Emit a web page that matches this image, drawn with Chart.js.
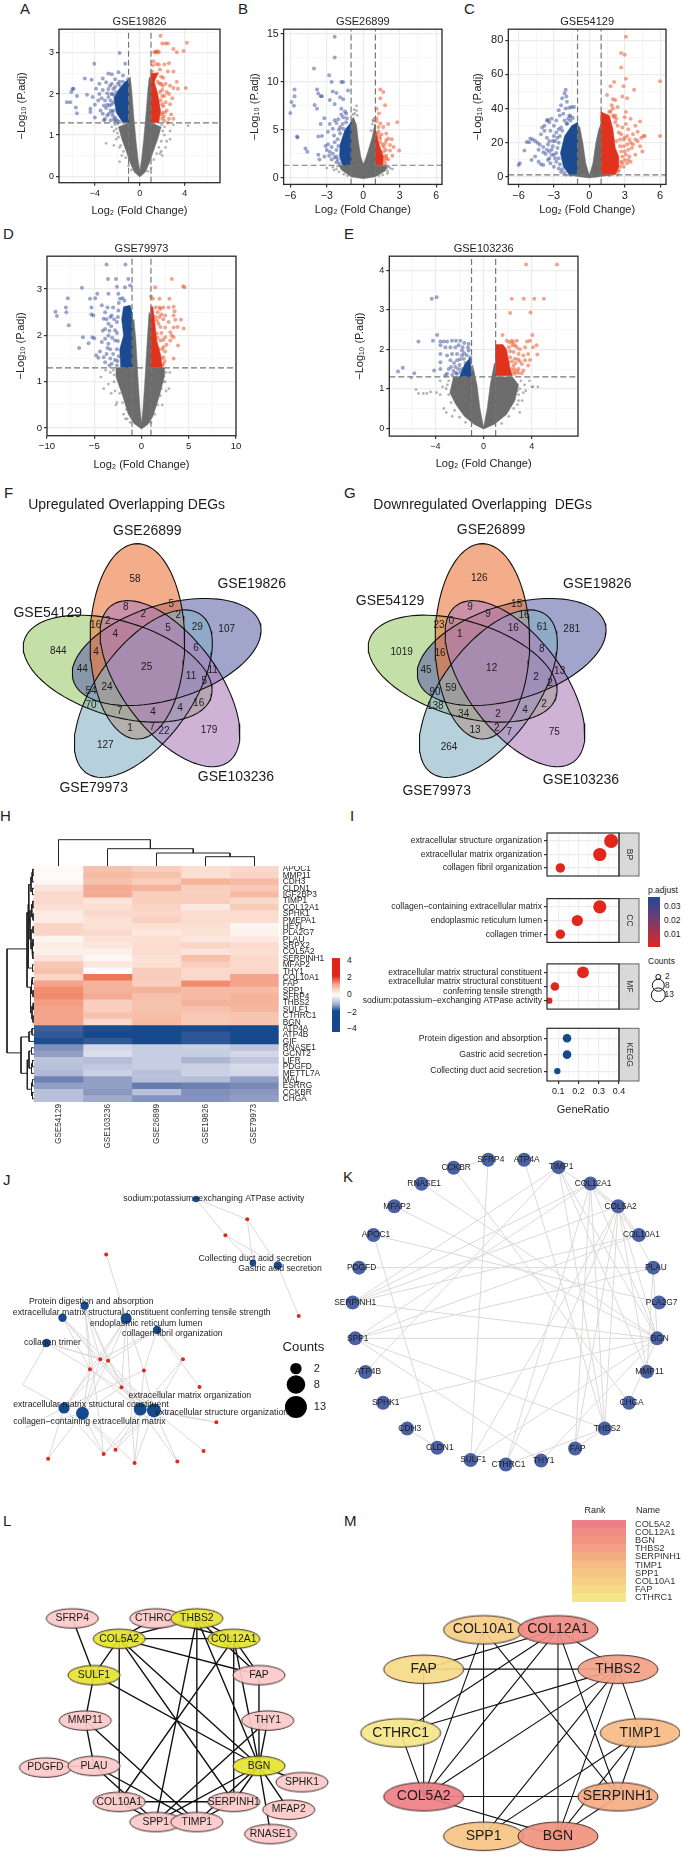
<!DOCTYPE html>
<html lang="en">
<head>
<meta charset="UTF-8">
<title>Overlapping DEGs figure</title>
<script src="https://cdn.jsdelivr.net/npm/chart.js"></script>
<style>
  body { margin: 0; background: #fff; width: 685px; height: 1857px; overflow: hidden; position: relative;
         font-family: "Liberation Sans", Arial, sans-serif; color: #222; }
  .note { position: absolute; white-space: nowrap; }
</style>
</head>
<body>
<script>
// ---------- volcano data, [log2FC, -log10 p.adj] ----------
const thresholdFc = [-1, 1];
const thresholdP = 1.3;

const aGrey = [[0,-.02],[-.5,.1],[-.9,.35],[-1.2,.6],[-1.6,.9],[-1.9,1.2],[-1,1.3],[-1,2.3],[-.85,2.42],[-.72,2.1],[-.55,1.5],[-.35,.9],[-.15,.4],[0,.12],[.15,.4],[.35,.9],[.55,1.5],[.72,2.1],[.85,2.42],[1,2.35],[1,1.3],[1.9,1.2],[1.6,.9],[1.2,.6],[.9,.35],[.5,.1],[0,-.02]];
const aBlueMass = [[-1,1.3],[-1.5,1.3],[-2.1,1.55],[-2.3,1.9],[-1.9,2.1],[-1.3,2.3],[-1,2.35],[-1,1.3]];
const aRedMass = [[1,1.3],[1.7,1.3],[1.85,1.6],[1.6,2],[1.3,2.3],[1.6,2.5],[1,2.5],[1,1.3]];
const aGreyDots = [[-3,.8],[-2.3,.75],[2.4,.85],[2.7,.9],[2.7,1.1],[2.2,1],[4.3,1.23],[-1.8,.35],[2,.5],[-2,1.05],[-2.5,1.2],[-2.3,1.1],[3,1.25],[1.9,.6],[-1.6,.5],[-2.1,.9],[2.3,.7],[-1.95,1.27],[-2.1,1.15],[-1.9,.95],[-1.7,.75],[-1.45,.6],[-1.25,.45],[-1,.25],[-.75,.15],[1.95,1.25],[2.05,1.1],[1.9,.85],[1.7,.7],[1.5,.55],[1.25,.4],[1,.2],[.7,.12],[-2.2,1.25],[2.2,1.2],[-1.8,.7],[1.8,.55]];
const aBlueDots = [[-1.8,3],[-4.05,2.74],[-1.3,2.74],[-2.8,2.5],[-2.5,2.48],[-1.9,2.53],[-1.5,2.45],[-2.2,2.36],[-1.05,2.36],[-4.9,2.38],[-4.3,2.35],[-3.3,2.38],[-3,2.29],[-3.6,2.25],[-2.5,2.25],[-1.8,2.3],[-6,2.12],[-5.9,2.13],[-6.1,2.05],[-5.6,1.95],[-4.7,1.98],[-3.9,2.13],[-3.6,2],[-4.2,1.93],[-3.3,2.1],[-2.8,2.12],[-3.7,1.84],[-4.4,1.64],[-4,1.74],[-3.2,1.72],[-6.2,1.8],[-5.6,1.53],[-5.7,1.67],[-4.4,1.56],[-4,1.43],[-3.1,1.39],[-3.5,1.6],[-2.9,1.48],[-2.6,1.36],[-3.2,1.36],[-2.6,1.84],[-2.4,2],[-2.2,2.17],[-2.8,1.93],[-2.6,1.6],[-2.4,1.47],[-3.1,1.84],[-6.5,1.8],[-3.4,1.9],[-3,1.66],[-3.3,1.52],[-2.9,2.02],[-2.3,1.38],[-2.7,1.72],[-2.5,1.75],[-2.35,1.6],[-2.2,1.42],[-2,1.36],[-2.55,2],[-2.1,2.05],[-2.45,1.55],[-2.3,1.8],[-2.25,1.95],[-1.75,2.2],[-1.5,2.3],[-1.95,2.25],[-2.75,1.52],[-2.15,1.34],[-1.8,1.32],[-2.65,2.2],[-2.35,2.12],[-2.9,1.74]];
const aRedDots = [[1.85,3.42],[1.3,3.02],[1.4,3.03],[1.5,3.02],[1.6,3.04],[1.7,3.02],[2,3.23],[2.3,3.23],[2.5,3.23],[4.2,3.25],[3,3.1],[3.3,3.02],[3.9,3.05],[1.2,2.8],[1.5,2.73],[2.2,2.72],[2.6,2.75],[1.8,2.6],[2.5,2.55],[3,2.55],[1.1,2.55],[1.4,2.45],[3.3,2.3],[2.3,2.25],[2.7,2.2],[4.1,2.15],[3.4,2.13],[3,2.15],[2.6,2],[2.9,1.9],[2.2,1.95],[2.7,1.75],[2.4,1.6],[2.8,1.5],[2.6,1.4],[3,1.4],[2.2,1.35],[2.5,1.3],[2,2.1],[2.3,1.8],[2,1.55],[2.1,2.4],[1.9,2.25],[2.4,2.05],[2,1.75],[2,1.4],[1.95,1.5],[2.1,1.7],[2,1.95],[1.8,2.05],[1.6,2.3],[1.9,2.42],[1.75,2.25],[2.15,1.45],[1.85,1.85],[2.25,1.55],[2.05,2.2],[1.55,2.5],[1.3,2.47],[1.15,2.7],[1.7,2.72]];

const bGrey = [[0,-.1],[-1,.1],[-1.8,.8],[-2,1.3],[-1,1.3],[-1,6],[-.8,6.3],[-.55,5.5],[-.4,3.8],[-.2,2.2],[0,1.4],[.2,2],[.45,3],[.75,4.3],[.95,5.6],[1,5.5],[1,1.3],[2,1.2],[1.8,.7],[1,.1],[0,-.1]];
const bBlueMass = [[-1,1.3],[-1.7,1.3],[-1.95,2.2],[-1.9,3.5],[-1.5,5],[-1,5.8],[-1,1.3]];
const bRedMass = [[1,1.3],[1.6,1.3],[1.65,2.2],[1.3,3.5],[1,5],[1,1.3]];
const bGreyDots = [[1.9,1],[2.2,1],[2.4,.9],[-2.5,1.1],[-3,1],[-2.2,.9],[-.55,7.5],[-.55,7],[-.5,6.5],[.8,6],[.9,6.2],[-2.4,.8],[2,.7],[-2.1,1.2],[-2,.6],[-1.6,.35],[-1.3,.2],[2.1,1.15],[2,.45],[1.6,.3],[1.3,.2],[-.7,6.7],[-.85,6.6],[-.75,7.1],[.75,5.6],[.65,4.9],[.85,5.9]];
const bBlueDots = [[-2.35,14.7],[-2.35,12.55],[-4.05,11.4],[-2.8,10.7],[-2.6,10],[-1.8,10],[-1.65,10],[-5.65,9.2],[-5.65,8.5],[-5.9,7.9],[-5.7,7.5],[-6,6.75],[-3.8,9.2],[-3.7,8.8],[-3.4,8.5],[-3.5,8.5],[-2.5,9],[-2.2,8.85],[-2.75,8.1],[-1.9,8.4],[-1.65,8.2],[-1.25,9.1],[-4,7.6],[-3.8,7.2],[-2.35,7.7],[-1.8,7.2],[-1.4,6.7],[-1.65,6.3],[-3.2,6.2],[-2.35,6],[-1.4,5.8],[-3.5,5.6],[-2.75,5.6],[-2.5,5.1],[-1.9,5.3],[-1.65,5.1],[-1.25,4.9],[-2.9,4.8],[-3.7,4.3],[-3.4,4.35],[-5.45,4.3],[-5.4,4.2],[-4.75,3.05],[-4.6,2.7],[-3.7,2.4],[-3.6,1.9],[-2.9,3.5],[-2.6,3.2],[-2.35,3.7],[-2.75,2.7],[-2.5,2.5],[-2.2,2.2],[-3.2,2.2],[-1.9,4.6],[-2.1,4],[-3,2.9],[-2.4,4.4],[-2.2,5.7],[-1.5,6.9],[-2.05,3.3],[-2.2,2.9],[-2.1,1.9],[-2.35,2.1],[-1.95,1.5],[-2.2,1.6],[-2.6,1.9],[-2.8,2.3],[-3.1,3.3],[-1.7,5.6],[-2,5],[-1.35,6.2],[-1.8,6.6],[-2.05,6.1]];
const bRedDots = [[1.4,9.2],[1.65,8.95],[1.4,8.3],[1.8,7.55],[1.1,7.2],[1.3,6.7],[1.1,6.2],[1.4,5.65],[2.05,5.6],[2.8,5.8],[1.65,5.3],[1.25,4.8],[1.9,4.6],[1.4,4.1],[2.05,4.1],[2.35,4],[1.8,3.6],[2.5,3.2],[2.95,2.85],[2.2,2.85],[1.65,2.7],[1.9,2.3],[2.4,2.3],[1.5,2.1],[2.05,1.9],[1.8,1.5],[1.5,1.45],[1.25,5.3],[1.1,5.9],[1.7,3.2],[2.2,3.4],[1.9,3.9],[1.4,3.7],[1.6,3.4],[1.85,2.9],[1.75,2.2],[1.7,1.8],[1.9,2],[1.5,4.5],[1.15,4.6],[1.3,4.3]];

const cGrey = [[0,-.5],[-1,.3],[-1.8,1.2],[-1,1.3],[-1,31],[-.8,29],[-.55,20],[-.3,8],[0,1],[.3,8],[.55,20],[.8,28],[1,31],[1,1.3],[1.8,1.2],[1,.3],[0,-.5]];
const cBlueMass = [[-1,1.3],[-1.7,1.3],[-2.2,6],[-2.45,14],[-2.1,24],[-1.5,30],[-1,32],[-1,1.3]];
const cRedMass = [[1,1.3],[2.2,1.3],[2.5,6],[2.5,12],[2.2,17],[2,28],[1.7,36],[1,38],[1,1.3]];
const cGreyDots = [[-2,1],[2.4,1],[-1.6,.8],[1.7,.8]];
const cBlueDots = [[-2,51],[-2.1,49],[-1.95,47],[-2.3,46],[-1.9,44],[-2.4,42],[-1.5,41],[-1.3,41],[-2,40],[-1.7,40.5],[-2.6,39],[-2.2,37],[-2.5,36],[-1.6,35.5],[-1.4,34.5],[-1.8,34],[-3.2,34],[-3.5,33.5],[-3.6,33],[-3.4,32],[-2.8,33],[-3,30],[-3.8,30],[-4,29],[-2.6,28],[-3.3,27],[-3.8,27],[-2.8,26],[-4.1,25],[-3,24],[-3.6,23],[-5,22.5],[-4.8,22],[-4.6,21],[-5.3,20.5],[-5.1,20.3],[-4.4,20],[-4.2,18.8],[-3.9,17.5],[-3.5,19],[-3.2,16],[-3.9,14.5],[-3,13],[-3.7,13.5],[-4.3,16],[-4.6,12],[-4.9,10],[-4.3,9],[-4.1,7.5],[-3.9,7],[-5.9,8],[-6,7],[-5.5,15.5],[-3.5,10],[-3.3,8],[-3,6],[-2.6,5],[-2.4,3],[-2.8,9],[-3.4,11],[-2.1,33],[-1.7,36],[-1.9,31],[-2.4,29],[-2.9,21],[-3.1,18],[-2.6,20],[-2.7,17],[-2.8,14],[-2.6,11],[-2.5,7.5],[-2.3,4.5],[-2.9,11],[-3.2,13],[-3.1,21],[-2.5,24],[-2.3,27],[-2.7,23],[-3.4,15],[-2.1,2.5],[-1.9,31.5],[-1.6,33],[-3.6,16],[-3.4,21]];
const cRedDots = [[3.1,82],[2.7,72.5],[3,71.5],[2.7,64],[3.1,57.5],[6,56],[2.1,55.5],[1.8,53],[2.9,53],[3.8,51],[1.5,48],[2.8,47],[2,45.5],[3.2,46],[2.2,45],[1.9,42],[2.4,41],[2,40],[3.1,38],[1.7,38],[2,36],[1.4,35],[2.3,34],[3,35],[3.5,34],[4.3,32.5],[3.9,30],[3.1,31],[2.8,29],[3.3,28],[4.1,26.5],[3.7,25],[2.7,25],[3.2,24],[4.6,24],[4.7,24],[4.4,23],[6,24],[3.9,22],[4.1,21],[3.5,20],[4.3,18],[4.5,15],[3.6,17],[3.2,19],[3,15],[3.9,13],[3.4,12],[3,10],[2.8,8],[2.5,4],[3.2,8],[3.5,9],[2.9,6],[2.4,30],[2.6,22],[2.9,18],[2.2,32],[2.7,15],[2.6,18],[2.8,12],[2.7,9],[2.6,6],[2.4,3],[2.9,22],[2.5,26],[2.3,21],[3.1,13],[3.3,16],[3,23],[3.4,22],[2.1,35],[1.8,38.5],[2.2,36],[3.7,19],[3.3,10]];

const dGrey = [[0,-.02],[-.8,.1],[-1.4,.3],[-2,.7],[-2.7,1.1],[-2.7,1.3],[-1,1.3],[-1,2.3],[-.8,2.35],[-.6,1.9],[-.35,1],[-.15,.4],[0,.1],[.15,.4],[.35,1],[.55,1.7],[.8,2.5],[1,2.4],[1,1.3],[2.4,1.3],[2.4,1.1],[1.9,.7],[1.2,.25],[.7,.08],[0,-.02]];
const dBlueMass = [[-1,1.3],[-2.2,1.3],[-2.3,1.7],[-1.9,2],[-2.1,2.35],[-1.9,2.62],[-1.2,2.65],[-1,2.5],[-1,1.3]];
const dRedMass = [[1,1.3],[2.2,1.3],[2,1.6],[1.6,1.9],[1.4,2.3],[1.2,2.62],[1,2.62],[1,1.3]];
const dGreyDots = [[-4.3,1.1],[-4,.85],[-3.5,.95],[-3.2,.75],[-2.8,.8],[-2.6,.55],[-2.7,.5],[-1.9,.3],[-1.5,.2],[2.9,.85],[2.6,.8],[2.2,.5],[2,.7],[3,1.2],[-3,1.25],[-3.8,1.25],[-1.7,.2],[2.3,1],[-2.9,1.15],[-3.3,1.2],[-2.9,1],[-2.3,.75],[-2,.55],[-1.6,.4],[2.6,1.2],[2.5,1],[2.1,.85],[1.7,.5],[1.4,.3],[-1.2,.12],[1,.12]];
const dBlueDots = [[-3.7,3.53],[-1.7,3.53],[-6.3,3.03],[-3.55,3.22],[-2.7,3.22],[-1.4,3.22],[-2.6,3.05],[-1.75,3.04],[-1.2,3.08],[-7.8,2.8],[-8,2.6],[-9.1,2.51],[-8.95,2.42],[-7.95,2.5],[-7.7,2.22],[-4.67,2.9],[-4.9,2.8],[-5.45,2.79],[-3.5,2.9],[-2.45,2.9],[-2.27,2.79],[-4.2,2.65],[-5.3,2.6],[-5.1,2.43],[-5.3,2.45],[-3.85,2.5],[-3,2.6],[-2.45,2.54],[-3.15,2.43],[-4,2.36],[-3.5,2.25],[-2.6,2.29],[-3.85,2.14],[-2.8,2.11],[-3.5,2],[-6.2,1.96],[-5.2,1.96],[-5,1.94],[-5.6,1.83],[-6.6,1.73],[-3.85,1.93],[-4.2,1.86],[-2.8,1.89],[-3.5,1.82],[-4.4,1.65],[-4.8,1.57],[-4.57,1.52],[-4,1.53],[-3.85,1.42],[-3,1.6],[-2.8,1.47],[-3.15,1.39],[-2.6,1.35],[-3.6,1.73],[-3.2,2.2],[-2.9,2.35],[-3.3,1.5],[-2.6,1.7],[-3.1,1.95],[-2.5,2.4],[-2.6,2.05],[-2.5,1.88],[-2.4,1.55],[-2.55,1.45],[-3.3,2.4],[-3.4,2.1],[-3.7,2.35],[-4.1,2.1],[-3.7,1.6],[-3.3,1.7],[-2.4,2.7],[-1.8,2.75],[-2,2.8],[-3.6,2.6],[-3.4,1.35]];
const dRedDots = [[3.2,3.22],[1.45,3.04],[4.4,3.06],[4.55,3.04],[1,2.84],[1.2,2.79],[1.9,2.79],[2.95,2.79],[1.5,2.6],[2.3,2.6],[2.87,2.6],[3.4,2.62],[3.5,2.52],[2,2.57],[2.5,2.43],[3.4,2.43],[3.58,2.34],[4.18,2.34],[2.87,2.29],[3.82,2.18],[4.46,2.15],[3.4,2.17],[2.5,2.17],[3.05,2.07],[3.2,2],[3.4,1.96],[3.05,1.89],[2.5,1.96],[3.86,1.78],[2.33,1.75],[3.4,1.5],[2.33,1.53],[2.33,1.39],[2,2.18],[1.6,2.04],[2,1.89],[1.63,2.32],[1.7,2.5],[1.9,2.4],[2.1,2.05],[2.5,1.65],[1.8,1.7],[2.1,1.5],[2.2,1.7],[1.9,1.55],[2.45,1.45],[2.2,1.35],[1.8,2.25],[2.3,2.35],[1.5,2.4],[1.9,2.6],[2.1,2.45],[2.3,1.9],[2.65,1.8],[1.7,1.95]];

const eGrey = [[0,-.02],[-.8,.1],[-1.6,.3],[-2.3,.6],[-2.8,.9],[-2.5,1.3],[-1,1.3],[-.9,1.6],[-.55,1.1],[-.3,.5],[0,.02],[.3,.5],[.55,1.1],[.9,1.65],[1,1.5],[1,1.3],[2.4,1.3],[2.9,1.1],[2.6,.7],[1.9,.35],[.9,.1],[0,-.02]];
const eBlueMass = [[-1,1.3],[-2,1.3],[-1.6,1.6],[-1.1,1.8],[-1,1.3]];
const eRedMass = [[1,1.33],[2.4,1.33],[2.2,1.5],[1.9,2],[1.6,2.12],[1,2.12],[1,1.33]];
const eGreyDots = [[-6,1.27],[-5.6,.98],[-5.4,.88],[-5,.88],[-4.7,.88],[-4.4,.92],[-3.9,.9],[-3.6,.85],[-3.4,1.05],[-3.1,1],[-3.3,.5],[-3.1,.4],[-2.6,.3],[4,1.05],[4.5,1.05],[3.5,.95],[3.3,.9],[2.8,.6],[3,.4],[3.8,1.2],[4.1,1.05],[3.1,1.2],[-3.6,1.2],[3.2,.7],[-2.9,1.2],[-3,1.1],[-2.9,.85],[-2.7,.65],[-2.4,.45],[-2,.28],[-1.5,.15],[3,1],[2.9,.85],[2.8,.95],[2.9,.7],[2.5,.5],[2.1,.3],[1.5,.12],[3.4,1.1]];
const eBlueDots = [[-4.3,3.28],[-3.9,3.32],[-3.85,2.36],[-4.2,2.22],[-5.4,2.2],[-3.58,2.2],[-3.3,2.2],[-3.03,2.2],[-2.62,2.22],[-2.29,2.22],[-1.93,2.22],[-1.6,2.16],[-1.24,2.14],[-3.58,2.1],[-3.17,2.05],[-2.75,2.05],[-2.34,2.05],[-2.07,2.1],[-1.74,2.05],[-3.58,1.88],[-3.03,1.84],[-2.62,1.88],[-2.2,1.88],[-1.79,1.97],[-1.24,1.97],[-3.58,1.67],[-2.75,1.72],[-2.2,1.72],[-1.65,1.76],[-1.1,1.8],[-3.58,1.5],[-2.89,1.5],[-2.34,1.55],[-1.79,1.5],[-1.1,1.55],[-3.03,1.38],[-2.2,1.38],[-1.6,1.39],[-1.05,1.39],[-7.1,1.44],[-6.7,1.53],[-5.75,1.39],[-4.1,1.46],[-3.17,1.34],[-2,1.6],[-1.5,1.65],[-2.5,1.45],[-1.9,1.42],[-1.4,1.85],[-1.8,1.85],[-2.1,1.5],[-2.3,1.4],[-2.7,1.55],[-1.95,1.75],[-1.3,2.05],[-1.6,1.9],[-2.45,1.65],[-2.6,1.35]];
const eRedDots = [[3.53,4.15],[6.09,4.15],[2.34,3.28],[3.33,3.28],[4.2,3.28],[5,3.28],[2.2,2.92],[3.9,2.93],[1.57,2.36],[4.05,2.36],[1.93,2.22],[2.34,2.22],[2.75,2.22],[3.6,2.2],[3.85,2.22],[4.4,2.1],[4.1,2.05],[4.46,1.87],[3,2],[3.44,2.05],[2.9,1.88],[3.7,1.88],[3.3,1.84],[2.48,1.93],[2.6,1.76],[3.44,1.72],[3.85,1.73],[2.07,1.67],[2.48,1.59],[3.17,1.63],[3.7,1.59],[2.9,1.5],[3.3,1.46],[2.48,1.42],[3.17,1.39],[2.2,1.8],[2.1,2.05],[2.6,2.1],[2.9,1.4],[2.3,1.5],[2.55,1.5],[2.65,1.65],[2.35,1.7],[2.2,1.95],[2.4,2.1],[2.75,2.05],[2.15,2.18],[2.45,2.18],[2.6,1.38],[2.75,1.45],[3,1.7],[2.85,1.75]];

// ---------- venn counts, positions in the venn's own units ----------
const vennEllipses = [[353,565,17],[500,515,-17],[412,483,90],[430,640,-54],[510,610,53]];
const vennColors = ['rgba(158,202,110,.6)','rgba(98,103,168,.6)','rgba(237,118,60,.6)','rgba(133,177,197,.6)','rgba(175,128,187,.6)'];
const upCounts = [[405,297,'58'],[680,447,'107'],[377,382,'8'],[514,373,'5'],[430,403,'2'],[535,405,'2'],[287,436,'16'],[323,425,'2'],[504,444,'5'],[592,442,'29'],[346,463,'4'],[175,515,'844'],[288,518,'4'],[588,505,'6'],[247,567,'44'],[440,563,'25'],[573,589,'11'],[638,571,'11'],[613,605,'5'],[273,633,'54'],[321,622,'24'],[273,675,'70'],[596,670,'16'],[359,694,'7'],[459,697,'4'],[540,685,'4'],[390,745,'1'],[457,742,'7'],[492,754,'22'],[627,750,'179'],[316,796,'127']];
const upNames = [[442,153,'GSE26899'],[755,313,'GSE19826'],[143,398,'GSE54129'],[708,891,'GSE103236'],[281,925,'GSE79973']];
const downCounts = [[418,295,'126'],[695,449,'281'],[390,381,'9'],[530,373,'15'],[444,403,'9'],[552,405,'16'],[297,436,'23'],[334,425,'0'],[520,444,'16'],[607,442,'61'],[359,463,'1'],[185,516,'1019'],[300,519,'16'],[605,507,'8'],[258,571,'45'],[455,566,'12'],[588,592,'2'],[659,574,'13'],[630,610,'2'],[285,637,'90'],[333,625,'59'],[286,679,'138'],[612,674,'2'],[371,702,'34'],[474,702,'2'],[555,690,'4'],[405,751,'13'],[470,746,'2'],[508,757,'7'],[643,756,'75'],[327,802,'264']];
const downNames = [[453,149,'GSE26899'],[772,311,'GSE19826'],[150,363,'GSE54129'],[723,899,'GSE103236'],[290,932,'GSE79973']];

// ---------- heatmap ----------
const heatColumns = ['GSE54129','GSE103236','GSE26899','GSE19826','GSE79973'];
const heatGenes = ['APOC1','MMP11','CDH3','CLDN1','IGF2BP3','TIMP1','COL12A1','SPHK1','PMEPA1','HEYL','PLA2G7','PLAU','SRPX2','COL5A2','SERPINH1','MFAP2','THY1','COL10A1','FAP','SPP1','SFRP4','THBS2','SULF1','CTHRC1','BGN','ATP4A','ATP4B','GIF','RNASE1','GCNT2','LIFR','PDGFD','METTL7A','MAL','ESRRG','CCKBR','CHGA'];
const heatValues = [
  [.1,1.1,.9,.6,.7],[.1,1.2,1.1,.6,.8],[.15,1.1,.9,1.3,1.2],[.5,1.4,1.3,.9,1],[.7,1.4,.9,.9,1.2],
  [.7,.5,.9,.9,.7],[.6,.6,.8,.4,.95],[.35,.7,.75,.65,.65],[.35,.55,.85,.65,.65],[.8,.55,.6,.6,.2],
  [.8,.7,.4,.55,.25],[.2,.55,.6,.45,.4],[.35,.45,.65,.8,.65],[.3,.3,.65,.5,.6],[.5,.15,.55,1.15,.7],
  [1,.45,.6,.9,.7],[1.1,.05,.95,.7,.75],[.8,2.1,.95,.7,1.5],[1.5,1.3,.9,1.8,1.5],[1.8,1.3,1.3,1.2,1.2],
  [1.85,1.4,1.1,1.2,1.3],[1.6,.9,1.1,1.3,1.3],[1.5,.9,1.1,1.1,1.25],[1.5,1.1,1.15,1,1.05],[1.5,.7,1.2,1,1.05],
  [-2.6,-3.2,-3.3,-3.3,-3.3],[-2.8,-3.3,-3.3,-2.9,-3.3],[-3.2,-2.8,-3.3,-2.9,-3.3],[-1.6,-.6,-.75,-.7,-.9],[-1.4,-.5,-.75,-.75,-.6],
  [-.9,-1,-.75,-1.1,-.85],[-.95,-.85,-.75,-.7,-.55],[-1.05,-.7,-.95,-.7,-.6],[-1.8,-1.4,-.95,-1,-1.4],[-1.4,-1.4,-1.9,-1.8,-1.7],
  [-.95,-1.5,-.95,-1.6,-1.5],[-.95,-1.25,-1.55,-1.55,-1.4]
];
const heatStops = [-3.3,-2,-1,0,.5,1,2,3];
const heatStopColors = [[22,74,140],[94,114,168],[181,189,216],[255,255,255],[252,228,218],[248,201,182],[239,127,95],[225,38,28]];
// dendrogram merges: [leaf a, height a, leaf b, height b, merge height]
const colMerges = [[3.5,0,4.5,0,9.3],[2.5,0,4,9.3,13],[1.5,0,3.25,13,17.3],[.5,0,2.375,17.3,26.3]];
const rowMerges = [[.5,0,1.5,0,1.2],[1,1.2,2.5,0,2],[3.5,0,4.5,0,1.5],[1.75,2,4,1.5,3],[5.5,0,6.5,0,1.2],[7.5,0,8.5,0,1],[6,1.2,8,1,2.2],[9.5,0,10.5,0,1],[11.5,0,12.5,0,1],[13.5,0,14.5,0,1.2],[12,1,14,1.2,2],[10,1,13,2,3],[7,2.2,11.5,3,4],[2.9,3,9.2,4,5.2],[15.5,0,16.5,0,1.5],[6,5.2,16,1.5,5.8],[17.5,0,18.5,0,1.8],[19.5,0,20.5,0,1],[18,1.8,20,1,2.5],[21.5,0,22.5,0,.8],[23.5,0,24.5,0,1],[22,.8,24,1,2],[19,2.5,23,2,3.5],[7.3,5.8,19,3.5,7],[25.5,0,26.5,0,2],[26,2,27.5,0,5],[28.5,0,29.5,0,2.5],[30.5,0,31.5,0,1.5],[31,1.5,32.5,0,2.5],[29,2.5,31.7,2.5,5],[33.5,0,34.5,0,1.5],[35.5,0,36.5,0,1.5],[34,1.5,36,1.5,2.5],[30.4,5,35,2.5,6.7],[26.8,5,32.5,6.7,13],[13,7,29.3,13,27]];

// ---------- enrichment dot plot ----------
const facetNames = ['BP','CC','MF','KEGG'];
const facetTerms = [
  ['extracellular structure organization','extracellular matrix organization','collagen fibril organization'],
  ['collagen\u2212containing extracellular matrix','endoplasmic reticulum lumen','collagen trimer'],
  ['extracellular matrix structural constituent','extracellular matrix structural constituent\nconferring tensile strength','sodium:potassium\u2212exchanging ATPase activity'],
  ['Protein digestion and absorption','Gastric acid secretion','Collecting duct acid secretion']
];
const facetRatio = [[.361,.305,.11],[.305,.194,.11],[.222,.083,.055],[.143,.143,.095]];
const facetCounts = [[13,11,4],[11,7,4],[8,3,2],[3,3,2]];
const facetColor = ['#e1261c','#e1261c','#e1261c','#164a8c'];
const countRadius = {2:3.2,3:4.3,4:4.7,7:5.6,8:5.9,11:6.6,13:7};

// ---------- term / gene network (panel J) ----------
const termNames = ['sodium','collecting','gastric','protein','conferring','er','fibril','trimer','ecmConst','ccMatrix','ecmOrg','extOrg'];
const termX = [593,775,855,236,165,369,468,114,170,229,414,458];
const termY = [122,327,335,464,503,505,542,584,792,809,796,800];
const termCount = [3,3,4,4,4,7,4,4,8,11,11,13];
const geneX = [757,687,922,305,286,311,253,426,551,354,604,658,617,533,396,335,297,119];
const geneY = [187,238,497,300,636,641,668,672,636,726,725,838,930,964,969,926,940,955];
const hiddenX = [38,45];
const hiddenY = [718,855];
const termGeneEdges = {
  sodium:[0,1],collecting:[0,1],gastric:[0,1,2],protein:[4,5,6,9,16],conferring:[4,5,6,9],er:[3,4,5,6,9,7,14],
  fibril:[4,5,7,8,10],trimer:['h0',4,5,6],ecmConst:['h0',4,5,6,7,16,17,'h1'],ccMatrix:[4,5,6,9,14,15,16,17,'h1'],
  ecmOrg:[4,5,6,7,8,9,11,13,14,15,16],extOrg:[4,5,6,7,8,9,11,12,13,14,15,16]
};
const termLabels = [[650,122,'sodium:potassium\u2212exchanging ATPase activity'],[782,312,'Collecting duct acid secretion'],[862,346,'Gastric acid secretion'],[257,452,'Protein digestion and absorption'],[419,486,'extracellular matrix structural constituent conferring tensile strength'],[433,520,'endoplasmic reticulum lumen'],[517,553,'collagen fibril organization'],[133,583,'collagen trimer'],[573,753,'extracellular matrix organization'],[256,781,'extracellular matrix structural constituent'],[675,806,'extracellular structure organization'],[251,837,'collagen\u2212containing extracellular matrix']];
const countsLegend = [[913,666,2],[913,717,8],[913,789,13]];

// ---------- PPI ring (panel K) ----------
const kNames = ['CCKBR','SFRP4','ATP4A','TIMP1','COL12A1','COL5A2','COL10A1','PLAU','PLA2G7','BGN','MMP11','CHGA','THBS2','FAP','THY1','CTHRC1','SULF1','CLDN1','CDH3','SPHK1','ATP4B','SPP1','SERPINH1','PDGFD','APOC1','MFAP2','RNASE1'];
const kX = [335,443,555,662,762,848,913,958,976,970,938,882,806,714,608,498,388,284,190,115,60,28,20,40,85,150,235];
const kY = [35,10,10,33,84,155,245,347,456,568,672,769,850,912,950,962,948,910,850,769,673,568,456,347,245,155,85];
const kEdges = [['SFRP4','SULF1'],['CCKBR','SFRP4'],['CCKBR','CHGA'],['RNASE1','BGN'],['MFAP2','BGN'],['APOC1','PLA2G7'],['APOC1','CLDN1'],['PDGFD','PLAU'],['SERPINH1','TIMP1'],['SERPINH1','COL12A1'],['SERPINH1','COL5A2'],['SERPINH1','COL10A1'],['SERPINH1','BGN'],['SPP1','BGN'],['SPP1','PLAU'],['SPP1','COL10A1'],['SPP1','COL12A1'],['SPP1','THBS2'],['SPP1','THY1'],['ATP4B','TIMP1'],['ATP4A','THBS2'],['SPHK1','BGN'],['CDH3','CLDN1'],['SULF1','BGN'],['SULF1','COL5A2'],['CTHRC1','COL12A1'],['CTHRC1','COL5A2'],['CTHRC1','THBS2'],['FAP','COL12A1'],['FAP','COL5A2'],['FAP','THBS2'],['THBS2','COL12A1'],['THBS2','COL5A2'],['THBS2','TIMP1'],['THY1','BGN'],['CHGA','BGN'],['MMP11','COL5A2'],['MMP11','TIMP1'],['MMP11','PLAU'],['BGN','PLAU'],['BGN','COL5A2'],['BGN','COL12A1'],['BGN','TIMP1'],['COL5A2','COL10A1'],['COL5A2','PLAU'],['COL12A1','COL10A1'],['COL12A1','COL5A2'],['COL5A2','TIMP1']];

// ---------- hub network (panel L) ----------
const lNames = ['SFRP4','CTHRC1','THBS2','COL5A2','COL12A1','SULF1','FAP','MMP11','THY1','PDGFD','PLAU','BGN','SPHK1','COL10A1','SERPINH1','MFAP2','SPP1','TIMP1','RNASE1'];
const lX = [208,466,593,353,707,275,785,248,812,125,275,785,918,353,707,877,466,593,821];
const lY = [380,380,380,443,443,555,555,695,695,840,835,835,885,946,946,970,1008,1008,1045];
const lHubs = ['THBS2','COL5A2','COL12A1','SULF1','BGN'];
const lEdges = [['SFRP4','SULF1'],['SULF1','COL5A2'],['SULF1','MMP11'],['SULF1','BGN'],['CTHRC1','COL5A2'],['CTHRC1','COL12A1'],['THBS2','COL5A2'],['THBS2','COL12A1'],['THBS2','FAP'],['THBS2','TIMP1'],['THBS2','SPP1'],['THBS2','BGN'],['COL5A2','COL12A1'],['COL5A2','FAP'],['COL5A2','COL10A1'],['COL5A2','BGN'],['COL5A2','SERPINH1'],['COL12A1','COL10A1'],['COL12A1','FAP'],['COL12A1','BGN'],['COL12A1','SERPINH1'],['FAP','BGN'],['THY1','BGN'],['THY1','SPP1'],['MMP11','PLAU'],['MMP11','TIMP1'],['PLAU','SPP1'],['PLAU','TIMP1'],['PLAU','PDGFD'],['COL10A1','SERPINH1'],['COL10A1','SPP1'],['SERPINH1','TIMP1'],['SERPINH1','BGN'],['BGN','SPP1'],['BGN','TIMP1'],['BGN','SPHK1'],['BGN','MFAP2'],['BGN','RNASE1']];

// ---------- top ten ranking (panel M) ----------
const rankNames = ['COL5A2','COL12A1','BGN','THBS2','SERPINH1','TIMP1','SPP1','COL10A1','FAP','CTHRC1'];
const rankColors = ['#ee7f87','#ef8c84','#f1937f','#f3a186','#f4ac83','#f6bb85','#f6c586','#f6ce85','#f6da87','#f5e68a'];
const mX = {COL10A1:428,COL12A1:658,FAP:243,THBS2:843,CTHRC1:172,TIMP1:912,COL5A2:243,SERPINH1:843,SPP1:428,BGN:658};
const mY = {COL10A1:415,COL12A1:415,FAP:537,THBS2:537,CTHRC1:733,TIMP1:733,COL5A2:930,SERPINH1:930,SPP1:1052,BGN:1052};
const mEdges = [['COL10A1','COL5A2'],['COL10A1','SPP1'],['COL10A1','SERPINH1'],['COL12A1','FAP'],['COL12A1','COL5A2'],['COL12A1','CTHRC1'],['COL12A1','THBS2'],['COL12A1','BGN'],['COL12A1','SERPINH1'],['FAP','THBS2'],['FAP','COL5A2'],['THBS2','CTHRC1'],['THBS2','COL5A2'],['THBS2','TIMP1'],['THBS2','SPP1'],['THBS2','BGN'],['CTHRC1','COL5A2'],['TIMP1','SERPINH1'],['TIMP1','BGN'],['TIMP1','SPP1'],['COL5A2','SERPINH1'],['COL5A2','BGN'],['SERPINH1','BGN']];

// ---------- helpers ----------
const FONT = '"Liberation Sans", Arial, sans-serif';
Chart.defaults.font.family = FONT;
Chart.defaults.color = '#222';
Chart.defaults.animation = false;
Chart.defaults.events = [];
Chart.defaults.plugins.legend.display = false;
Chart.defaults.plugins.tooltip.enabled = false;

// draws {x,y,text} points of any dataset that has a textSize, and boxes a plot when asked
Chart.register({
  id: 'figureExtras',
  afterDatasetsDraw(chart, args, opts) {
    const ctx = chart.ctx;
    chart.data.datasets.forEach((ds, i) => {
      if (!ds.textSize) return;
      ctx.save();
      ctx.font = ds.textSize + 'px ' + FONT;
      ctx.fillStyle = '#1c1c1c';
      ctx.textAlign = 'center';
      ctx.textBaseline = 'middle';
      chart.getDatasetMeta(i).data.forEach((pt, j) => ctx.fillText(ds.data[j].text, pt.x, pt.y));
      ctx.restore();
    });
    if (opts.box) {
      const a = chart.chartArea;
      ctx.save();
      if (opts.strip) {
        ctx.fillStyle = '#d9d9d9';
        ctx.strokeStyle = '#666';
        ctx.lineWidth = 1;
        ctx.fillRect(a.right, a.top, 20, a.bottom - a.top);
        ctx.strokeRect(a.right, a.top, 20, a.bottom - a.top);
        ctx.translate(a.right + 10, (a.top + a.bottom) / 2);
        ctx.rotate(Math.PI / 2);
        ctx.fillStyle = '#333';
        ctx.font = '8.5px ' + FONT;
        ctx.textAlign = 'center';
        ctx.textBaseline = 'middle';
        ctx.fillText(opts.strip, 0, 0);
        ctx.setTransform(1, 0, 0, 1, 0, 0);
      }
      ctx.strokeStyle = '#2a2a2a';
      ctx.lineWidth = opts.box;
      ctx.strokeRect(a.left, a.top, a.right - a.left, a.bottom - a.top);
      ctx.restore();
    }
  }
});

function mount(x, y, w, h) {
  const c = document.createElement('canvas');
  c.width = w;
  c.height = h;
  c.style.cssText = `position:absolute;left:${x}px;top:${y}px`;
  document.body.appendChild(c);
  return c;
}

function note(text, x, y, size, centered) {
  const d = document.createElement('div');
  d.className = 'note';
  d.textContent = text;
  d.style.cssText = `left:${x}px;top:${y}px;font-size:${size}px;` + (centered ? 'transform:translate(-50%,-50%);' : '');
  document.body.appendChild(d);
}

function inOrder(datasets) {
  datasets.forEach((d, i) => { d.order = datasets.length - i; });
  return datasets;
}

// fixed axis box, without the extra room chart.js keeps for the first and last label
const fixHeight = h => s => { s.height = h; s.paddingLeft = s.paddingRight = 0; };
const fixWidth = w => s => { s.width = w; s.paddingTop = s.paddingBottom = 0; };

const toPoints = list => list.map(p => ({x: p[0], y: p[1]}));
const textSet = (items, size) => ({data: items.map(t => ({x: t[0], y: t[1], text: t[2]})), pointRadius: 0, textSize: size});
const shape = (list, color) => ({data: toPoints(list), showLine: true, fill: 'shape', backgroundColor: color, borderColor: color, borderWidth: .5, pointRadius: 0});
const dots = (list, color, r) => ({data: toPoints(list), backgroundColor: color, borderWidth: 0, pointRadius: r});
const dashed = (list) => ({data: toPoints(list), showLine: true, borderColor: '#777', borderWidth: 1.2, borderDash: [6, 3], pointRadius: 0});
const fmtTick = v => String(v).replace('-', '\u2212');

function gridAxis(min, max, major, minor, size, margin, title) {
  const cfg = {
    min, max,
    afterBuildTicks: s => { s.ticks = major.concat(minor).map(v => ({value: v})); },
    afterFit: margin,
    border: {display: false},
    grid: {
      color: c => major.includes(c.tick.value) ? '#ececec' : '#f4f4f4',
      lineWidth: c => major.includes(c.tick.value) ? 1.2 : .8,
      tickColor: c => major.includes(c.tick.value) ? '#333' : 'rgba(0,0,0,0)',
      tickLength: 3
    },
    ticks: {
      autoSkip: false, maxRotation: 0, padding: 2, color: '#222', font: {size},
      callback: v => major.includes(v) ? fmtTick(v) : ''
    }
  };
  if (title) cfg.title = {display: true, text: title, font: {size: 11}, color: '#222', padding: 0};
  return cfg;
}

function volcano(cfg) {
  const [x, y, x2, y2] = cfg.rect;
  const [l, r, b] = cfg.margin;
  const top = 14.2;
  const c = mount(Math.round(x - l), Math.round(y - top), Math.round(x2 - x + l + r), Math.round(y2 - y + top + b));
  new Chart(c, {
    type: 'scatter',
    data: {datasets: inOrder([
      dots(cfg.greyDots, 'rgba(105,105,105,.5)', 1.4),
      shape(cfg.grey, '#6c6c6c'),
      dots(cfg.blueDots, 'rgba(48,68,150,.48)', 2),
      dots(cfg.redDots, 'rgba(232,80,36,.52)', 2),
      shape(cfg.blueMass, '#1c4a90'),
      shape(cfg.redMass, '#e0321c'),
      dashed([[thresholdFc[0], cfg.yr[0]], [thresholdFc[0], cfg.yr[1]]]),
      dashed([[thresholdFc[1], cfg.yr[0]], [thresholdFc[1], cfg.yr[1]]]),
      dashed([[cfg.xr[0], thresholdP], [cfg.xr[1], thresholdP]])
    ])},
    options: {
      responsive: false,
      layout: {padding: {right: r}},
      plugins: {
        figureExtras: {box: 1.3},
        title: {display: true, text: cfg.title, fullSize: false, font: {size: 11, weight: 'normal'}, color: '#222', padding: {top: 0, bottom: 1}}
      },
      scales: {
        x: gridAxis(cfg.xr[0], cfg.xr[1], cfg.xMajor, cfg.xMinor, cfg.tick, fixHeight(b), 'Log\u2082 (Fold Change)'),
        y: gridAxis(cfg.yr[0], cfg.yr[1], cfg.yMajor, cfg.yMinor, cfg.tick, fixWidth(l), '\u2212Log\u2081\u2080 (P.adj)')
      }
    }
  });
}

function ellipseOutline(e, shift) {
  const pts = [];
  const t = e[2] * Math.PI / 180;
  for (let i = 0; i <= 96; i++) {
    const u = i / 96 * 2 * Math.PI;
    const a = 293 * Math.cos(u), b = 142 * Math.sin(u);
    pts.push([e[0] + shift + a * Math.cos(t) - b * Math.sin(t), e[1] + 1 + a * Math.sin(t) + b * Math.cos(t)]);
  }
  return pts;
}

function venn(x, title, titleX, counts, names, shift) {
  const fills = vennEllipses.map((e, i) => ({data: toPoints(ellipseOutline(e, shift)), showLine: true, fill: 'shape', backgroundColor: vennColors[i], borderWidth: 0, pointRadius: 0}));
  const lines = vennEllipses.map(e => ({data: toPoints(ellipseOutline(e, shift)), showLine: true, borderColor: '#111', borderWidth: 1.1, pointRadius: 0}));
  new Chart(mount(x, 480, 345, 320), {
    type: 'scatter',
    data: {datasets: inOrder([...fills, ...lines, textSet(counts, 10), textSet(names, 14), textSet([[titleX, 75, title]], 14)])},
    options: {responsive: false, scales: {x: {display: false, min: 0, max: 1035}, y: {display: false, min: 0, max: 960, reverse: true}}}
  });
}

function heatColor(v) {
  let i = 0;
  while (i < heatStops.length - 2 && v > heatStops[i + 1]) i++;
  const t = Math.max(0, Math.min(1, (v - heatStops[i]) / (heatStops[i + 1] - heatStops[i])));
  const rgb = heatStopColors[i].map((c, k) => Math.round(c + (heatStopColors[i + 1][k] - c) * t));
  return `rgb(${rgb.join(',')})`;
}

function mergePath(merges, swap) {
  const out = [];
  merges.forEach(m => {
    const path = [[m[0], m[1]], [m[0], m[4]], [m[2], m[4]], [m[2], m[3]]];
    path.forEach(p => out.push(swap ? {x: p[1], y: p[0]} : {x: p[0], y: p[1]}));
    out.push({x: null, y: null});
  });
  return out;
}

function edgeSet(pairs, xOf, yOf, color, width) {
  const data = [];
  pairs.forEach(([a, b]) => {
    data.push({x: xOf(a), y: yOf(a)}, {x: xOf(b), y: yOf(b)}, {x: null, y: null});
  });
  return {data, showLine: true, borderColor: color, borderWidth: width, pointRadius: 0};
}

function ovalSprite(rx, ry, fill) {
  const c = document.createElement('canvas');
  c.width = rx * 2 + 4;
  c.height = ry * 2 + 4;
  const g = c.getContext('2d');
  g.beginPath();
  g.ellipse(rx + 2, ry + 2, rx, ry, 0, 0, 2 * Math.PI);
  g.globalAlpha = .93;
  g.fillStyle = fill;
  g.fill();
  g.globalAlpha = 1;
  g.strokeStyle = '#3c2a28';
  g.lineWidth = 1;
  g.stroke();
  return c;
}

function ovalNodes(names, xOf, yOf, sprite) {
  const sprites = names.map(sprite);
  return {data: names.map(n => ({x: xOf(n), y: yOf(n)})), pointRadius: 1, pointStyle: c => sprites[c.dataIndex]};
}

const unitScales = (x0, x1, y0, y1) => ({x: {display: false, min: x0, max: x1}, y: {display: false, min: y0, max: y1, reverse: true}});

// ---------- panel letters ----------
[['A',20,0],['B',238,0],['C',464,0],['D',3,225],['E',344,225],['F',4,484],['G',344,484],['H',0,807],['I',350,807],['J',3,1171],['K',343,1168],['L',3,1512],['M',344,1512]]
  .forEach(p => note(p[0], p[1], p[2], 15));

// ---------- A-E volcano plots ----------
volcano({title: 'GSE19826', rect: [59, 29, 220, 182], margin: [44, 12, 35.3], tick: 9, xr: [-7.2, 7.15], yr: [-.16, 3.58],
  xMajor: [-4, 0, 4], xMinor: [-6, -2, 2, 6], yMajor: [0, 1, 2, 3], yMinor: [.5, 1.5, 2.5, 3.5],
  grey: aGrey, blueMass: aBlueMass, redMass: aRedMass, greyDots: aGreyDots, blueDots: aBlueDots, redDots: aRedDots});
volcano({title: 'GSE26899', rect: [284, 29, 442, 184], margin: [35.6, 12, 32.6], tick: 10.5, xr: [-6.55, 6.48], yr: [-.7, 15.5],
  xMajor: [-6, -3, 0, 3, 6], xMinor: [-4.5, -1.5, 1.5, 4.5], yMajor: [0, 5, 10, 15], yMinor: [2.5, 7.5, 12.5],
  grey: bGrey, blueMass: bBlueMass, redMass: bRedMass, greyDots: bGreyDots, blueDots: bBlueDots, redDots: bRedDots});
volcano({title: 'GSE54129', rect: [508, 29, 666, 184], margin: [37.3, 12, 32.6], tick: 11, xr: [-6.87, 6.5], yr: [-4.3, 86.4],
  xMajor: [-6, -3, 0, 3, 6], xMinor: [-4.5, -1.5, 1.5, 4.5], yMajor: [0, 20, 40, 60, 80], yMinor: [10, 30, 50, 70],
  grey: cGrey, blueMass: cBlueMass, redMass: cRedMass, greyDots: cGreyDots, blueDots: cBlueDots, redDots: cRedDots});
volcano({title: 'GSE79973', rect: [47, 256, 236, 435], margin: [33, 12, 36.3], tick: 9.6, xr: [-10, 10], yr: [-.165, 3.71],
  xMajor: [-10, -5, 0, 5, 10], xMinor: [-7.5, -2.5, 2.5, 7.5], yMajor: [0, 1, 2, 3], yMinor: [.5, 1.5, 2.5, 3.5],
  grey: dGrey, blueMass: dBlueMass, redMass: dRedMass, greyDots: dGreyDots, blueDots: dBlueDots, redDots: dRedDots});
volcano({title: 'GSE103236', rect: [389, 256, 578, 436], margin: [36.3, 12, 34.9], tick: 9, xr: [-7.82, 7.83], yr: [-.2, 4.36],
  xMajor: [-4, 0, 4], xMinor: [-6, -2, 2, 6], yMajor: [0, 1, 2, 3, 4], yMinor: [.5, 1.5, 2.5, 3.5],
  grey: eGrey, blueMass: eBlueMass, redMass: eRedMass, greyDots: eGreyDots, blueDots: eBlueDots, redDots: eRedDots});

// ---------- F, G venn diagrams ----------
venn(0, 'Upregulated Overlapping DEGs', 380, upCounts, upNames, 0);
venn(340, 'Downregulated Overlapping  DEGs', 428, downCounts, downNames, 15);

// ---------- H heatmap with dendrograms ----------
new Chart(mount(34, 866, 297, 292), {
  type: 'bar',
  data: {
    labels: heatGenes,
    datasets: heatColumns.map((name, j) => ({
      label: name,
      data: heatGenes.map(() => 1),
      backgroundColor: heatValues.map(row => heatColor(row[j])),
      borderWidth: 0, barPercentage: 1, categoryPercentage: 1
    }))
  },
  options: {
    indexAxis: 'y',
    responsive: false,
    scales: {
      x: {
        stacked: true, min: 0, max: 5, position: 'bottom',
        afterBuildTicks: s => { s.ticks = heatColumns.map((n, i) => ({value: i + .5})); },
        afterFit: fixHeight(56),
        border: {display: false},
        grid: {display: false, tickLength: 0},
        ticks: {autoSkip: false, minRotation: 90, maxRotation: 90, padding: 2, font: {size: 8.2}, color: '#333', callback: (v, i) => heatColumns[i]}
      },
      y: {
        stacked: true, position: 'right',
        afterFit: fixWidth(52.3),
        border: {display: false},
        grid: {display: false, tickLength: 0},
        ticks: {autoSkip: false, padding: 4, font: {size: 8.3}, color: '#222'}
      }
    }
  }
});
new Chart(mount(34, 835, 245, 31), {
  type: 'scatter',
  data: {datasets: [{data: mergePath(colMerges, false), showLine: true, borderColor: '#222', borderWidth: 1, pointRadius: 0}]},
  options: {responsive: false, scales: {x: {display: false, min: 0, max: 5}, y: {display: false, min: 0, max: 31}}}
});
new Chart(mount(5, 866, 29, 236), {
  type: 'scatter',
  data: {datasets: [{data: mergePath(rowMerges, true), showLine: true, borderColor: '#222', borderWidth: 1, pointRadius: 0}]},
  options: {responsive: false, scales: {x: {display: false, min: 0, max: 29, reverse: true}, y: {display: false, min: 0, max: 37, reverse: true}}}
});
// heat colour key
const heatKey = document.createElement('div');
heatKey.style.cssText = 'position:absolute;left:332px;top:958px;width:8px;height:74px;background:linear-gradient(#e1261c 0%,#e1261c 24%,#f4a88f 36%,#fff 50%,#a9b2d2 62%,#164a8c 72%,#164a8c 100%)';
document.body.appendChild(heatKey);
[[4,960],[2,977.7],[0,994.7],['\u22122',1012],['\u22124',1028.7]].forEach(p => note(p[0], 347, p[1] - 5.5, 8.5));

// ---------- I enrichment dot plot ----------
const facetTops = [826, 892, 958, 1024];
const dotGridX = [.05, .15, .25, .35];
facetNames.forEach((name, f) => {
  const last = f === facetNames.length - 1;
  const bottom = last ? 36 : 0;
  const xAxis = gridAxis(.044, .4, [.1, .2, .3, .4], dotGridX, 9, fixHeight(bottom), last ? 'GeneRatio' : null);
  if (!last) {
    xAxis.ticks.display = false;
    xAxis.grid.drawTicks = false;
  }
  new Chart(mount(345, facetTops[f], 295, 57 + bottom), {
    type: 'bubble',
    data: {datasets: [{
      data: facetRatio[f].map((v, i) => ({x: v, y: i + 1, r: countRadius[facetCounts[f][i]]})),
      backgroundColor: facetColor[f], borderWidth: 0
    }]},
    options: {
      responsive: false,
      layout: {padding: {right: 21}},
      plugins: {figureExtras: {box: 1.2, strip: name}},
      scales: {
        x: xAxis,
        y: {
          min: .4, max: 3.6, reverse: true,
          afterBuildTicks: s => { s.ticks = [1, 2, 3].map(v => ({value: v})); },
          afterFit: fixWidth(202),
          border: {display: false},
          grid: {color: '#ececec', lineWidth: 1.2, tickColor: '#333', tickLength: 3},
          ticks: {autoSkip: false, padding: 2, font: {size: 8.6, lineHeight: 1.15}, color: '#222',
            callback: v => { const t = facetTerms[f][v - 1]; return t.includes('\n') ? t.split('\n') : t; }}
        }
      }
    }
  });
});
note('p.adjust', 648, 885, 8.5);
const padjKey = document.createElement('div');
padjKey.style.cssText = 'position:absolute;left:648px;top:897px;width:12px;height:50px;background:linear-gradient(#24489a,#7d3a6b 50%,#e1261c)';
document.body.appendChild(padjKey);
[['0.03',906],['0.02',920],['0.01',933.5]].forEach(p => note(p[0], 664, p[1] - 5, 8.5));
note('Counts', 648, 956, 8.5);
new Chart(mount(640, 965, 45, 45), {
  type: 'scatter',
  data: {datasets: [
    {data: [{x: 16, y: 6}, {x: 16, y: 19}, {x: 16, y: 34}], pointRadius: [2.5, 6, 7], backgroundColor: 'rgba(0,0,0,0)', borderColor: '#111', borderWidth: 1},
    textSet([[30, 6, '2'], [30, 19, '8'], [33, 34, '13']], 8.5)
  ]},
  options: {responsive: false, scales: unitScales(0, 45, 0, 45)}
});

// ---------- J term network ----------
const termIndex = n => termNames.indexOf(n);
const geneOrHiddenX = g => typeof g === 'string' ? hiddenX[+g.slice(1)] : geneX[g];
const geneOrHiddenY = g => typeof g === 'string' ? hiddenY[+g.slice(1)] : geneY[g];
const jPairs = [];
Object.keys(termGeneEdges).forEach(t => termGeneEdges[t].forEach(g => jPairs.push([t, g])));
const jX = n => typeof n === 'string' && termIndex(n) >= 0 ? termX[termIndex(n)] : geneOrHiddenX(n);
const jY = n => typeof n === 'string' && termIndex(n) >= 0 ? termY[termIndex(n)] : geneOrHiddenY(n);
const jRadius = {2: 5.7, 3: 3.3, 4: 4.2, 7: 5.5, 8: 5.6, 11: 6.4, 13: 7};
new Chart(mount(0, 1150, 345, 340), {
  type: 'scatter',
  data: {datasets: inOrder([
    edgeSet(jPairs, jX, jY, '#dcd9d8', 1),
    {data: geneX.map((x, i) => ({x, y: geneY[i]})), backgroundColor: '#e1261c', borderWidth: 0, pointRadius: 2},
    {data: termX.map((x, i) => ({x, y: termY[i]})), backgroundColor: '#164a8c', borderWidth: 0, pointRadius: termCount.map(c => jRadius[c])},
    {data: countsLegend.map(c => ({x: c[0], y: c[1]})), backgroundColor: '#000', borderWidth: 0, pointRadius: [5.7, 9.3, 11]},
    textSet(termLabels, 8.7),
    textSet([[937, 598, 'Counts']], 13.2),
    textSet([[980, 666, '2'], [980, 717, '8'], [990, 789, '13']], 11)
  ])},
  options: {responsive: false, scales: unitScales(0, 1035, 0, 1020)}
});

// ---------- K ring network ----------
const kXOf = n => kX[kNames.indexOf(n)];
const kYOf = n => kY[kNames.indexOf(n)];
new Chart(mount(320, 1140, 365, 350), {
  type: 'scatter',
  data: {datasets: inOrder([
    edgeSet(kEdges, kXOf, kYOf, '#dcd9d8', 1),
    {data: kNames.map(n => ({x: kXOf(n), y: kYOf(n)})), backgroundColor: '#4a62a5', borderWidth: 0, pointRadius: 7},
    textSet(kNames.map(n => [kXOf(n) + 8, kYOf(n), n]), 8.4)
  ])},
  options: {responsive: false, scales: unitScales(-60, 1035, -30, 1020)}
});

// ---------- L hub network ----------
const lXOf = n => lX[lNames.indexOf(n)];
const lYOf = n => lY[lNames.indexOf(n)];
new Chart(mount(0, 1490, 340, 367), {
  type: 'scatter',
  data: {datasets: inOrder([
    edgeSet(lEdges, lXOf, lYOf, '#111', 1.4),
    ovalNodes(lNames, lXOf, lYOf, n => ovalSprite(26, 9.7, lHubs.includes(n) ? '#e5e432' : '#fbc9c9')),
    textSet(lNames.filter(n => n !== 'CTHRC1').map(n => [lXOf(n), lYOf(n), n]).concat([[458, 380, 'CTHRC']]), 10.4)
  ])},
  options: {responsive: false, scales: unitScales(0, 1020, 0, 1101)}
});

// ---------- M ranked network and its key ----------
const mXOf = n => mX[n];
const mYOf = n => mY[n];
new Chart(mount(340, 1490, 345, 367), {
  type: 'scatter',
  data: {datasets: inOrder([
    edgeSet(mEdges, mXOf, mYOf, '#111', 1.1),
    ovalNodes(rankNames.slice().reverse(), mXOf, mYOf, n => ovalSprite(40, 14.2, rankColors[rankNames.indexOf(n)])),
    textSet(rankNames.map(n => [mXOf(n), mYOf(n), n]), 14)
  ])},
  options: {responsive: false, scales: unitScales(0, 1035, 0, 1101)}
});
new Chart(mount(572, 1520, 113, 82), {
  type: 'bar',
  data: {labels: rankNames, datasets: [{data: rankNames.map(() => 1), backgroundColor: rankColors, borderWidth: 0, barPercentage: 1, categoryPercentage: 1}]},
  options: {
    indexAxis: 'y',
    responsive: false,
    scales: {
      x: {display: false, min: 0, max: 1},
      y: {position: 'right', afterFit: fixWidth(59), border: {display: false}, grid: {display: false, tickLength: 0},
        ticks: {autoSkip: false, padding: 9, font: {size: 9.2}, color: '#333'}}
    }
  }
});
note('Rank', 595, 1510, 9, true);
note('Name', 648, 1510, 9, true);
</script>
</body>
</html>
